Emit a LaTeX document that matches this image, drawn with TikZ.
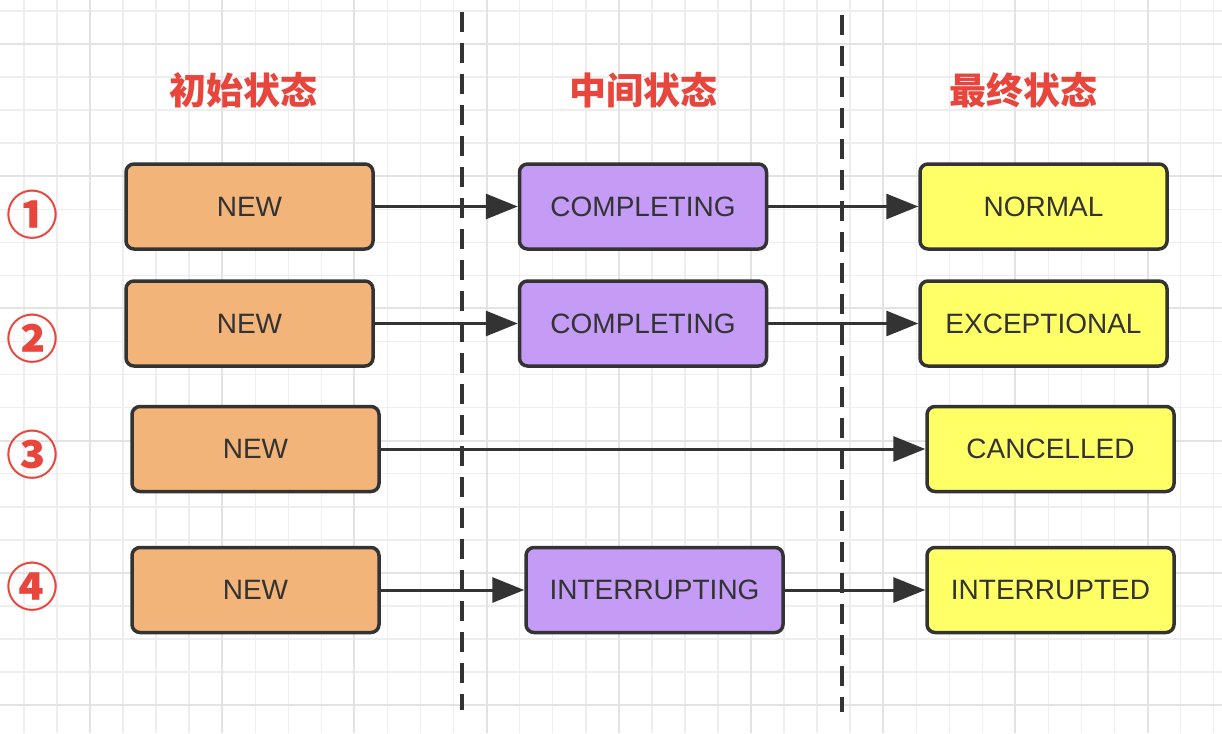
\documentclass[tikz,border=0pt]{standalone}
\usepackage{fontspec}
\setmainfont{Liberation Sans}
\newfontfamily\cjk{Noto Sans CJK SC}
\usetikzlibrary{arrows.meta}

\definecolor{gridminor}{HTML}{EEEEEE}
\definecolor{gridmajor}{HTML}{E3E3E3}
\definecolor{boxline}{HTML}{333333}
\definecolor{newfill}{HTML}{F2B478}
\definecolor{midfill}{HTML}{C49BF5}
\definecolor{endfill}{HTML}{FFFF66}
\definecolor{headred}{HTML}{E8453C}

\tikzset{
  stbox/.style={draw=boxline, line width=3.5pt, rounded corners=8pt,
    minimum width=247pt, minimum height=85pt, inner sep=0pt,
    font=\fontsize{28}{32}\selectfont, text=boxline},
  newst/.style={stbox, fill=newfill},
  midst/.style={stbox, fill=midfill},
  endst/.style={stbox, fill=endfill},
  trans/.style={draw=boxline, line width=3pt, -{Triangle[length=32pt,width=25pt]}},
  phase/.style={draw=boxline, line width=3.5pt, dash pattern=on 20pt off 11pt},
  head/.style={font=\cjk\bfseries\fontsize{37}{40}\selectfont, text=headred},
  num/.style={font=\cjk\bfseries\fontsize{52}{56}\selectfont, text=headred, inner sep=0pt},
}

\begin{document}
\begin{tikzpicture}[x=1pt,y=-1pt]
  \useasboundingbox[fill=white] (0,0) rectangle (1222,733);

  %% Background grid
  \foreach \i in {0,1,...,36}
    \draw[gridminor, line width=1.5pt] ({23.9+33.05*\i},0) -- ({23.9+33.05*\i},733);
  \foreach \j in {0,1,...,22}
    \draw[gridminor, line width=1.5pt] (0,{11+33.05*\j}) -- (1222,{11+33.05*\j});
  \foreach \i in {0,1,...,8}
    \draw[gridmajor, line width=2pt] ({90+132.2*\i},0) -- ({90+132.2*\i},733);
  \foreach \j in {0,1,...,5}
    \draw[gridmajor, line width=2pt] (0,{44+132.2*\j}) -- (1222,{44+132.2*\j});

  %% Phase borders
  \coordinate (B1top) at (462,12);
  \coordinate (B1bot) at (462,710);
  \coordinate (B2top) at (842,15);
  \coordinate (B2bot) at (842,712);
  \draw[phase] (B1top) -- (B1bot);
  \draw[phase] (B2top) -- (B2bot);

  %% Column titles
  \node[head] (HINIT) at (243,90)  {初始状态};
  \node[head] (HMID)  at (643,90)  {中间状态};
  \node[head] (HEND)  at (1023,90) {最终状态};

  %% Row numbers
  \node[num] (N1) at (32,215) {①};
  \node[num] (N2) at (32,339) {②};
  \node[num] (N3) at (32,455) {③};
  \node[num] (N4) at (32,587) {④};

  %% Row 1
  \node[newst] (NEW1)  at (249.5,206.5)  {NEW};
  \node[midst] (COMP1) at (643,206.5)    {COMPLETING};
  \node[endst] (NORM)  at (1043.5,206.5) {NORMAL};
  \draw[trans] (NEW1) -- (COMP1);
  \draw[trans] (COMP1) -- (NORM);

  %% Row 2
  \node[newst] (NEW2)  at (249.5,323.5)  {NEW};
  \node[midst] (COMP2) at (643,323.5)    {COMPLETING};
  \node[endst] (EXCP)  at (1043.5,323.5) {EXCEPTIONAL};
  \draw[trans] (NEW2) -- (COMP2);
  \draw[trans] (COMP2) -- (EXCP);

  %% Row 3
  \node[newst] (NEW3) at (255.5,449)  {NEW};
  \node[endst] (CANC) at (1050.5,449) {CANCELLED};
  \draw[trans] (NEW3) -- (CANC);

  %% Row 4
  \node[newst] (NEW4)  at (255.5,590) {NEW};
  \node[midst, minimum width=257pt] (INTG) at (654.5,590) {INTERRUPTING};
  \node[endst] (INTD)  at (1050.5,590) {INTERRUPTED};
  \draw[trans] (NEW4) -- (INTG);
  \draw[trans] (INTG) -- (INTD);

\end{tikzpicture}
\end{document}
